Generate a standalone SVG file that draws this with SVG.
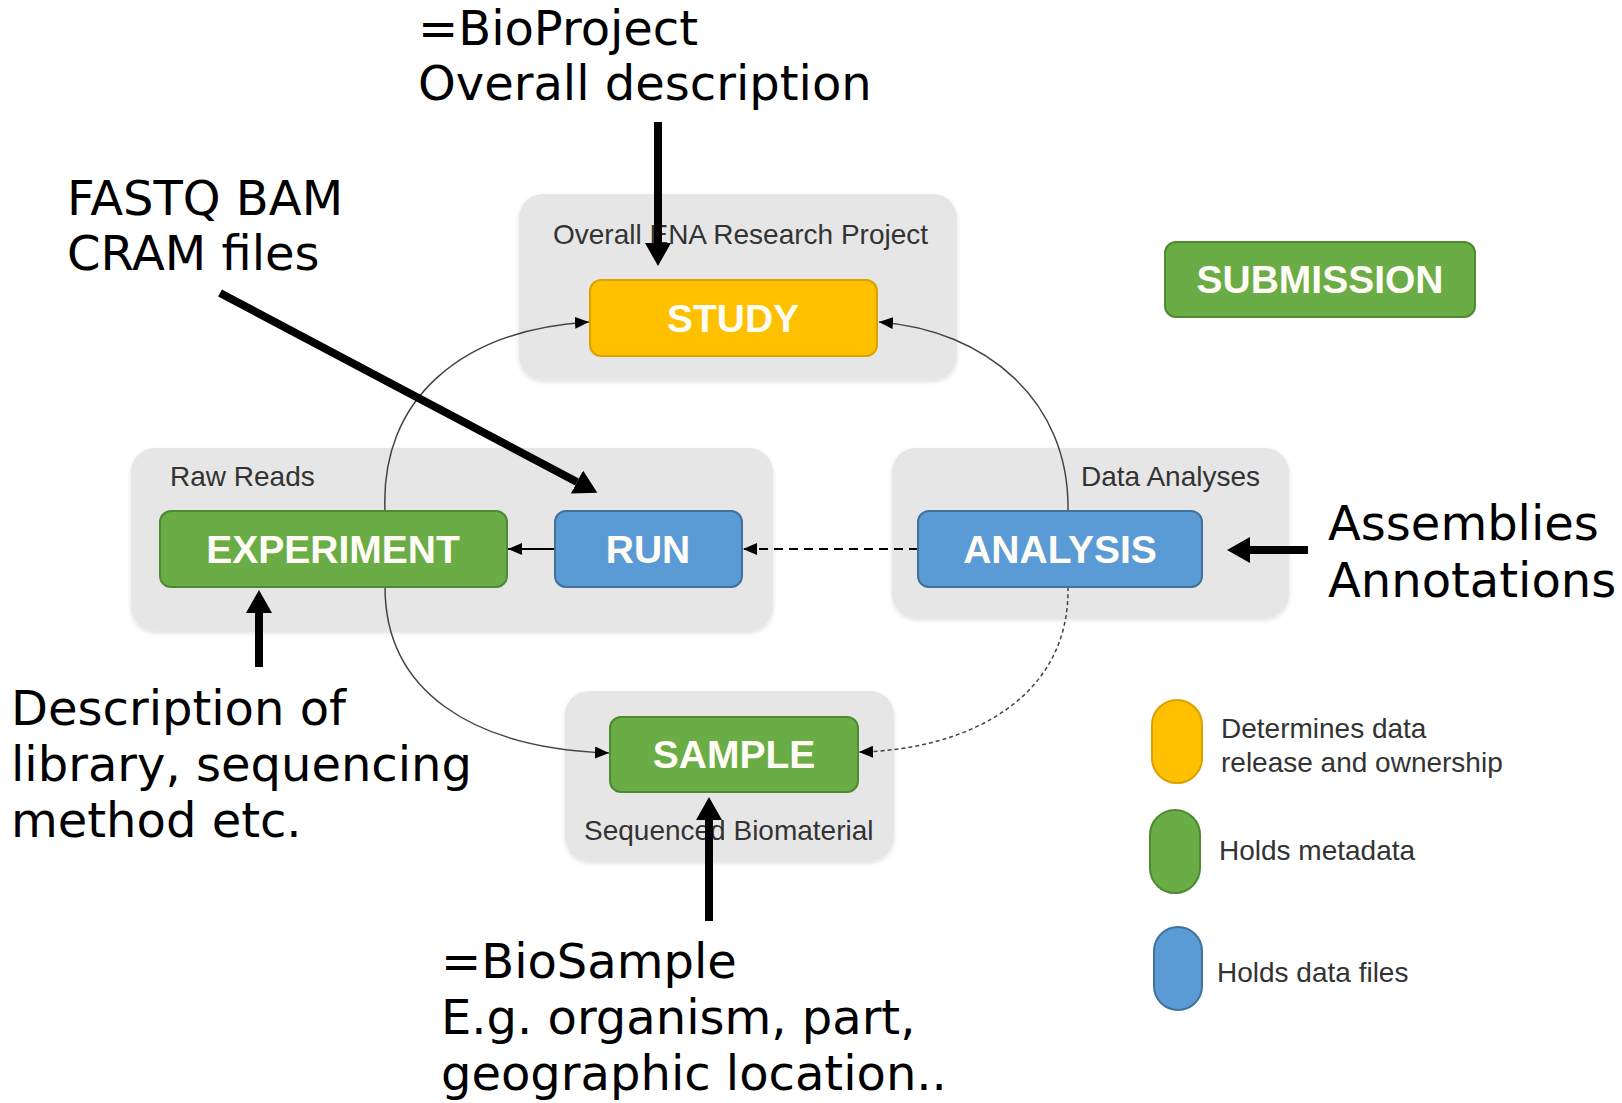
<svg xmlns="http://www.w3.org/2000/svg" width="1622" height="1103" viewBox="0 0 1622 1103">
<style>
.cont{fill:#e6e6e6;}
.lbl{font-family:"Liberation Sans",Arial,sans-serif;font-size:28px;fill:#333;}
.node{font-family:"Liberation Sans",Arial,sans-serif;font-size:39px;font-weight:bold;fill:#fffdf5;text-anchor:middle;}
.yel{fill:#ffc000;stroke:#d9a200;stroke-width:2;}
.grn{fill:#6aac45;stroke:#4e8a31;stroke-width:2;}
.blu{fill:#5b9bd5;stroke:#41719c;stroke-width:2;}
.ann{font-family:"DejaVu Sans",Verdana,sans-serif;font-size:48px;fill:#000;}
.thin{fill:none;stroke:#444;stroke-width:1.5;}
.big{fill:none;stroke:#000;stroke-width:8;}
</style>
<defs>
<marker id="sm" markerUnits="userSpaceOnUse" markerWidth="14" markerHeight="12" refX="14" refY="6" orient="auto"><path d="M0,0 L14,6 L0,12 z" fill="#000"/></marker>
<marker id="bg" markerUnits="userSpaceOnUse" markerWidth="24" markerHeight="26" refX="0" refY="13" orient="auto"><path d="M0,0 L23,13 L0,26 z" fill="#000"/></marker>
<filter id="sh" x="-5%" y="-5%" width="110%" height="115%"><feDropShadow dx="0" dy="2" stdDeviation="2" flood-color="#000" flood-opacity="0.12"/></filter>
</defs>
<rect width="1622" height="1103" fill="#fff"/>

<g id="containers">
<g id="c-study"><rect class="cont" filter="url(#sh)" x="519" y="194" width="438" height="186" rx="24"/><text class="lbl" x="553" y="244">Overall ENA Research Project</text></g>
<g id="c-raw"><rect class="cont" filter="url(#sh)" x="131" y="448" width="642" height="183" rx="24"/><text class="lbl" x="170" y="486">Raw Reads</text></g>
<g id="c-data"><rect class="cont" filter="url(#sh)" x="892" y="448" width="397" height="170" rx="24"/><text class="lbl" x="1081" y="486">Data Analyses</text></g>
<g id="c-sample"><rect class="cont" filter="url(#sh)" x="565" y="691" width="329" height="170" rx="24"/><text class="lbl" x="584" y="840">Sequenced Biomaterial</text></g>
</g>

<g id="connectors">
<path class="thin" d="M385,511 C380,400 460,330 589,322" marker-end="url(#sm)"/>
<path class="thin" d="M385,587 C385,690 470,748 609,753" marker-end="url(#sm)"/>
<path class="thin" d="M1068,511 C1070,400 985,330 879,322" marker-end="url(#sm)"/>
<path class="thin" d="M1068,587 C1070,700 965,750 859,752" stroke-dasharray="4 3" marker-end="url(#sm)"/>
<line x1="555" y1="549" x2="508" y2="549" stroke="#000" stroke-width="2" marker-end="url(#sm)"/>
<line x1="918" y1="549" x2="743" y2="549" stroke="#000" stroke-width="2" stroke-dasharray="9 6" marker-end="url(#sm)"/>
</g>

<g id="n-study"><rect class="yel" x="590" y="280" width="287" height="76" rx="11"/><text class="node" x="733" y="332">STUDY</text></g>
<g id="n-experiment"><rect class="grn" x="160" y="511" width="347" height="76" rx="11"/><text class="node" x="333" y="563">EXPERIMENT</text></g>
<g id="n-run"><rect class="blu" x="555" y="511" width="187" height="76" rx="11"/><text class="node" x="648" y="563">RUN</text></g>
<g id="n-analysis"><rect class="blu" x="918" y="511" width="284" height="76" rx="11"/><text class="node" x="1060" y="563">ANALYSIS</text></g>
<g id="n-sample"><rect class="grn" x="610" y="717" width="248" height="75" rx="11"/><text class="node" x="734" y="768">SAMPLE</text></g>
<g id="n-submission"><rect class="grn" x="1165" y="242" width="310" height="75" rx="11"/><text class="node" x="1320" y="293">SUBMISSION</text></g>

<g id="legend">
<g id="lg-yellow"><rect class="yel" x="1152" y="700" width="50" height="83" rx="25"/><text class="lbl" x="1221" y="738">Determines data</text><text class="lbl" x="1221" y="772">release and ownership</text></g>
<g id="lg-green"><rect class="grn" x="1150" y="810" width="50" height="83" rx="25"/><text class="lbl" x="1219" y="860">Holds metadata</text></g>
<g id="lg-blue"><rect class="blu" x="1154" y="927" width="48" height="83" rx="24"/><text class="lbl" x="1217" y="982">Holds data files</text></g>
</g>

<g id="annotations">
<g id="a-bioproject"><text class="ann" x="418" y="45">=BioProject</text><text class="ann" x="418" y="100">Overall description</text></g>
<g id="a-files"><text class="ann" x="67" y="215">FASTQ BAM</text><text class="ann" x="67" y="270">CRAM files</text></g>
<g id="a-experiment"><text class="ann" x="11" y="725">Description of</text><text class="ann" x="11" y="781">library, sequencing</text><text class="ann" x="11" y="837">method etc.</text></g>
<g id="a-biosample"><text class="ann" x="441" y="978">=BioSample</text><text class="ann" x="441" y="1034">E.g. organism, part,</text><text class="ann" x="441" y="1090">geographic location..</text></g>
<g id="a-analysis"><text class="ann" x="1328" y="540">Assemblies</text><text class="ann" x="1328" y="597">Annotations</text></g>
</g>

<g id="annotation-arrows">
<line class="big" x1="658" y1="122" x2="658" y2="243" marker-end="url(#bg)"/>
<line class="big" x1="220" y1="293" x2="577" y2="482" marker-end="url(#bg)"/>
<line class="big" x1="259" y1="667" x2="259" y2="613" marker-end="url(#bg)"/>
<line class="big" x1="709" y1="921" x2="709" y2="820" marker-end="url(#bg)"/>
<line class="big" x1="1308" y1="550" x2="1250" y2="550" marker-end="url(#bg)"/>
</g>
</svg>
